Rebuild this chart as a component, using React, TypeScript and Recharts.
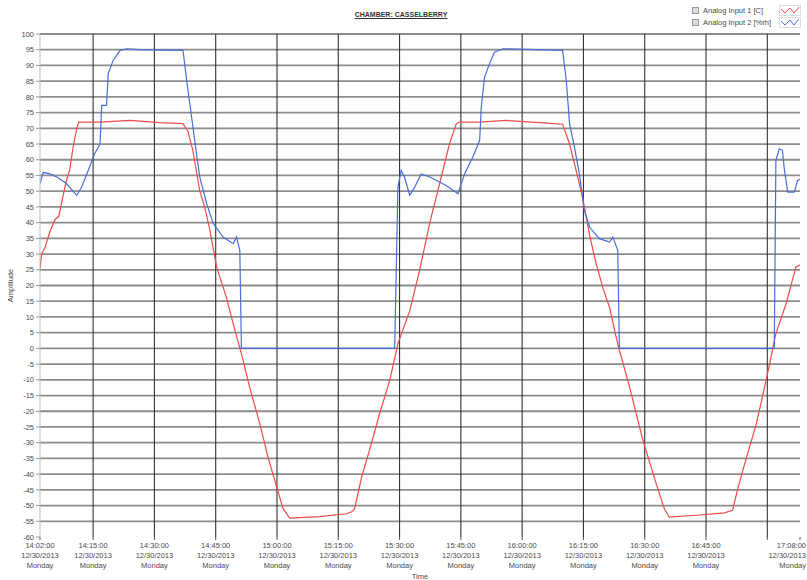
import { LineChart, Line, XAxis, YAxis, CartesianGrid } from 'recharts'

// minutes after 14:00 on 12/30/2013
const tempMinutes = [
  2.0, 2.4, 3.2, 4.4, 5.7, 6.6, 7.4, 8.4, 9.3, 10.1, 11.0, 11.5, 16.7, 24.0, 31.3, 37.0,
  38.2, 39.4, 41.1, 42.3, 43.6, 45.2, 47.6, 49.7, 51.3, 53.3, 55.8, 57.8, 59.9, 61.5, 63.1,
  70.5, 77.0, 78.3, 79.0, 80.7, 83.1, 85.1, 87.6, 89.6, 92.5, 94.9, 97.4, 99.8, 102.2, 103.9,
  104.7, 109.6, 116.1, 124.2, 129.9, 131.6, 133.2, 134.8, 136.5, 138.1, 139.7, 141.4, 143.0,
  143.8, 146.3, 149.5, 152.8, 154.8, 156.0, 163.4, 169.5, 171.5, 172.7, 174.0, 177.3, 179.7,
  182.1, 184.6, 187.0, 188.0,
]
const tempValues = [
  25, 30, 32, 37, 41, 42, 47, 53, 57, 64, 70, 72, 72, 72.5, 71.8, 71.5,
  69, 63, 50, 45, 37.5, 26, 16.3, 5.7, -1.7, -12.3, -24, -34.6, -44, -51, -54,
  -53.5, -52.6, -52, -51, -41, -30.3, -20.8, -10.2, 1.5, 12, 24.8, 40, 52.4, 65, 71.5,
  72, 72, 72.5, 71.8, 71.3, 65, 56.6, 48, 36, 27, 19.5, 13, 3.6,
  -0.6, -12.3, -29, -43, -51, -53.7, -53, -52.3, -51.5, -45, -38.8, -24, -10.2,
  4.7, 14.2, 25.9, 26.5,
]

const rhMinutes = [
  2.0, 2.8, 4.4, 6.1, 8.4, 11.0, 12.2, 13.8, 15.4, 16.7, 17.1, 18.3, 18.7, 19.9, 21.6, 23.2,
  26.4, 37.0, 37.9, 39.1, 40.3, 41.1, 42.8, 44.4, 46.8, 49.3, 50.1, 50.9, 51.3, 88.8, 89.6,
  90.4, 91.2, 92.5, 93.7, 95.3, 97.4, 101.4, 104.3, 105.9, 107.9, 109.6, 110.0, 110.8, 112.0,
  113.2, 115.3, 129.9, 130.8, 131.6, 132.8, 134.0, 135.2, 136.5, 138.9, 141.4, 142.2, 143.4,
  143.8, 181.7, 182.1, 182.9, 183.7, 184.2, 185.0, 186.6, 187.4, 188.0,
]
const rhValues = [
  52.4, 56, 55.5, 54.5, 52.5, 48.7, 51.3, 56.6, 62, 65, 77.3, 77.3, 87.4, 91.6, 94.8, 95.3,
  95, 94.8, 85.2, 73.6, 62, 54.5, 46, 39.7, 35.4, 33.3, 35.4, 31.2, 0, 0, 51.3,
  56.6, 54.5, 48.7, 51.3, 55.5, 54.5, 51.8, 49.2, 55.5, 60.8, 66.2, 76.8, 86.3, 90.5,
  94.2, 95.3, 94.8, 85.2, 71.5, 64, 55.5, 43.9, 38.6, 34.9, 33.8, 35.4, 31.2,
  0, 0, 59.8, 63.5, 63, 56.6, 49.7, 49.7, 53.4, 53.8,
]

const timeTicks = [2, 15, 30, 45, 60, 75, 90, 105, 120, 135, 150, 165, 180, 188]
const timeLabels = [
  '14:02:00', '14:15:00', '14:30:00', '14:45:00', '15:00:00', '15:15:00', '15:30:00',
  '15:45:00', '16:00:00', '16:15:00', '16:30:00', '16:45:00', '', '17:08:00',
]
const dateLabel = '12/30/2013'
const dayLabel = 'Monday'
const gridTimes = [15, 30, 45, 60, 75, 90, 105, 120, 135, 150, 165, 180]
const amplitudeTicks = [
  -60, -55, -50, -45, -40, -35, -30, -25, -20, -15, -10, -5, 0, 5, 10, 15, 20, 25, 30, 35,
  40, 45, 50, 55, 60, 65, 70, 75, 80, 85, 90, 95, 100,
]
const gridAmplitudes = amplitudeTicks.filter((v) => v > -60)

const tempData = tempMinutes.map((t, i) => ({ t, v: tempValues[i] }))
const rhData = rhMinutes.map((t, i) => ({ t, v: rhValues[i] }))

const font = '"Liberation Sans", Arial, sans-serif'
const textColor = '#4a4a4a'
const red = '#ee4b4b'
const blue = '#4a6ed6'

function TimeTick({ x, y, payload }: any) {
  const idx = timeTicks.indexOf(payload.value)
  const label = timeLabels[idx]
  if (!label) return null
  // last label sits on the right edge, keep it inside the picture
  const last = idx === timeTicks.length - 1
  const tx = last ? 806 : x
  const anchor = last ? 'end' : 'middle'
  return (
    <text x={tx} y={y} textAnchor={anchor} fontSize={7.5} fill={textColor} fontFamily={font}>
      <tspan x={tx} dy={6}>{label}</tspan>
      <tspan x={tx} dy={10}>{dateLabel}</tspan>
      <tspan x={tx} dy={10}>{dayLabel}</tspan>
    </text>
  )
}

function Zigzag({ color }: { color: string }) {
  return (
    <svg width={22} height={11} style={{ display: 'block' }}>
      <rect x={0.5} y={0.5} width={21} height={10} fill="#fff" stroke="#ddd" />
      <polyline points="2,4 6,8 11,3 15,8 20,2" fill="none" stroke={color} strokeWidth={1} />
    </svg>
  )
}

function LegendBox() {
  const rows = [
    { name: 'Analog Input 1 [C]', color: red },
    { name: 'Analog Input 2 [%rh]', color: blue },
  ]
  return (
    <div style={{ fontFamily: font, fontSize: 7.5, color: textColor }}>
      {rows.map((r) => (
        <div key={r.name} style={{ display: 'flex', alignItems: 'center', height: 12 }}>
          <span
            style={{
              width: 5, height: 5, border: '1px solid #999', background: '#ddd',
              marginRight: 4, display: 'inline-block',
            }}
          />
          <span style={{ width: 76 }}>{r.name}</span>
          <Zigzag color={r.color} />
        </div>
      ))}
    </div>
  )
}

export default function App() {
  return (
    <div
      style={{
        position: 'fixed', left: 0, top: 0, width: 807, height: 580,
        overflow: 'hidden', background: '#fff',
      }}
    >
      <div
        style={{
          position: 'absolute', top: 11, left: 0, width: 802, textAlign: 'center',
          fontFamily: font, fontSize: 7, fontWeight: 'bold', color: '#333',
          textDecoration: 'underline',
        }}
      >
        CHAMBER: CASSELBERRY
      </div>
      <div style={{ position: 'absolute', top: 4, left: 692 }}>
        <LegendBox />
      </div>
      <div style={{ position: 'absolute', top: 0, left: 0 }}>
        <LineChart
          width={830}
          height={580}
          margin={{ top: 34, right: 30, bottom: 0, left: 0 }}
        >
          <CartesianGrid
            vertical={false}
            horizontalValues={gridAmplitudes}
            stroke="#8c8c8c"
            strokeWidth={1.8}
          />
          <CartesianGrid
            horizontal={false}
            verticalValues={gridTimes}
            stroke="#333"
            strokeWidth={1.1}
          />
          <XAxis
            type="number"
            dataKey="t"
            domain={[2, 188]}
            ticks={timeTicks}
            interval={0}
            allowDataOverflow
            height={43}
            axisLine={false}
            tickSize={3}
            tickLine={{ stroke: '#555' }}
            tick={<TimeTick />}
            label={{
              value: 'Time', position: 'insideBottom', offset: 1,
              style: { fontSize: 7.5, fill: textColor, fontFamily: font },
            }}
          />
          <YAxis
            type="number"
            domain={[-60, 100]}
            ticks={amplitudeTicks}
            interval={0}
            width={40}
            axisLine={{ stroke: '#bbb' }}
            tickLine={{ stroke: '#999' }}
            tickSize={4}
            tickMargin={2}
            tick={{ fontSize: 7.5, fill: textColor, fontFamily: font }}
            label={{
              value: 'Amplitude', angle: -90, position: 'insideLeft', offset: 10,
              style: { fontSize: 7.5, fill: textColor, fontFamily: font, textAnchor: 'middle' },
            }}
          />
          <Line
            data={tempData}
            dataKey="v"
            name="Analog Input 1 [C]"
            type="linear"
            stroke={red}
            strokeWidth={1.2}
            dot={false}
            isAnimationActive={false}
          />
          <Line
            data={rhData}
            dataKey="v"
            name="Analog Input 2 [%rh]"
            type="linear"
            stroke={blue}
            strokeWidth={1.2}
            dot={false}
            isAnimationActive={false}
          />
        </LineChart>
      </div>
    </div>
  )
}
